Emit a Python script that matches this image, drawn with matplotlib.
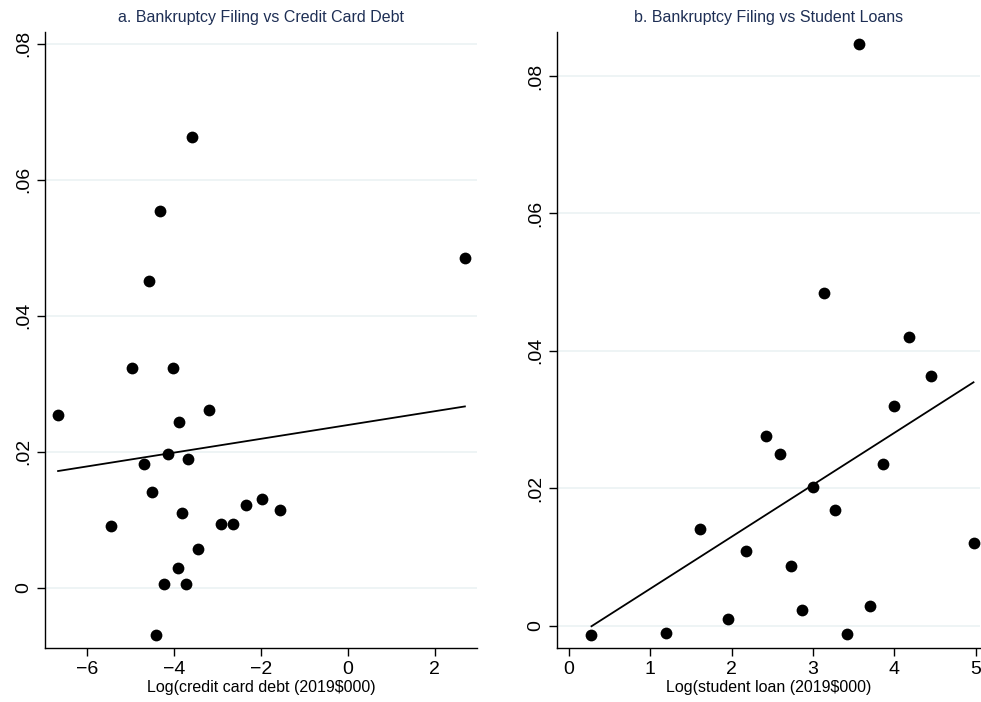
import matplotlib
matplotlib.use('Agg')
import matplotlib.pyplot as plt
import numpy as np

plt.rcParams['font.family'] = ['Liberation Sans', 'DejaVu Sans']

# panel a: log credit card debt vs bankruptcy filing
cc_x = [-3.59, -4.33, -4.57, 2.69, -4.97, -4.03, -6.67, -3.19, -3.88, -4.13,
        -4.69, -3.68, -4.50, -5.46, -3.81, -2.92, -2.64, -2.34, -1.98, -1.56,
        -3.45, -3.92, -4.24, -3.73, -4.42]
cc_y = [0.0663, 0.0554, 0.0451, 0.0485, 0.0323, 0.0323, 0.0253, 0.0261, 0.0243, 0.0197,
        0.0182, 0.0189, 0.0141, 0.0091, 0.0109, 0.0094, 0.0093, 0.0122, 0.0130, 0.0114,
        0.0056, 0.0029, 0.0005, 0.0005, -0.0070]
cc_fit = (0.0239, 0.001015)   # intercept, slope (as shown in the figure)

# panel b: log student loan vs bankruptcy filing
sl_x = [3.56, 3.13, 4.18, 4.45, 4.00, 2.42, 2.59, 3.86, 3.00, 3.27,
        1.61, 4.97, 2.18, 2.73, 2.87, 3.70, 1.95, 0.28, 1.20, 3.42]
sl_y = [0.0847, 0.0484, 0.0420, 0.0363, 0.0319, 0.0276, 0.0250, 0.0236, 0.0202, 0.0168,
        0.0141, 0.0121, 0.0108, 0.0087, 0.0023, 0.0028, 0.0010, -0.0014, -0.0011, -0.0012]
sl_fit = (-0.0022, 0.00757)

title_col = '#1e2f55'
grid_col = '#edf3f4'


def stata_panel(ax, x, y, fit, title, xlabel, xticks, xlim, ylim):
    x = np.array(x)
    y = np.array(y)
    ax.scatter(x, y, s=72, color='black', zorder=3, linewidths=0)
    a, b = fit
    xs = np.array([x.min(), x.max()])
    ax.plot(xs, a + b * xs, color='black', lw=1.3, zorder=2)

    yticks = [0, 0.02, 0.04, 0.06, 0.08]
    ax.set_yticks(yticks)
    ax.set_yticklabels(['0', '.02', '.04', '.06', '.08'], rotation=90, va='center')
    ax.set_xticks(xticks)
    ax.set_xticklabels([str(t).replace('-', '\u2212') for t in xticks])
    ax.set_xlim(*xlim)
    ax.set_ylim(*ylim)
    ax.grid(axis='y', color=grid_col, lw=1.3)
    ax.set_axisbelow(True)
    for s in ['top', 'right']:
        ax.spines[s].set_visible(False)
    for s in ['left', 'bottom']:
        ax.spines[s].set_linewidth(1.0)
    ax.tick_params(labelsize=14, length=6, width=1, pad=3)
    ax.set_title(title, fontsize=11.5, color=title_col, pad=7)
    ax.set_xlabel(xlabel, fontsize=11.5, labelpad=2)


fig = plt.figure(figsize=(9.81, 7.02), dpi=100)
ax1 = fig.add_axes([0.0459, 0.0769, 0.4404, 0.8775])
ax2 = fig.add_axes([0.5675, 0.0769, 0.4315, 0.8775])

stata_panel(ax1, cc_x, cc_y, cc_fit, 'a. Bankruptcy Filing vs Credit Card Debt',
            'Log(credit card debt (2019$000)', [-6, -4, -2, 0, 2],
            (-6.97, 2.97), (-0.0089, 0.0817))
stata_panel(ax2, sl_x, sl_y, sl_fit, 'b. Bankruptcy Filing vs Student Loans',
            'Log(student loan (2019$000)', [0, 1, 2, 3, 4, 5],
            (-0.147, 5.05), (-0.00325, 0.0864))

fig.savefig('out.png', dpi=100)
